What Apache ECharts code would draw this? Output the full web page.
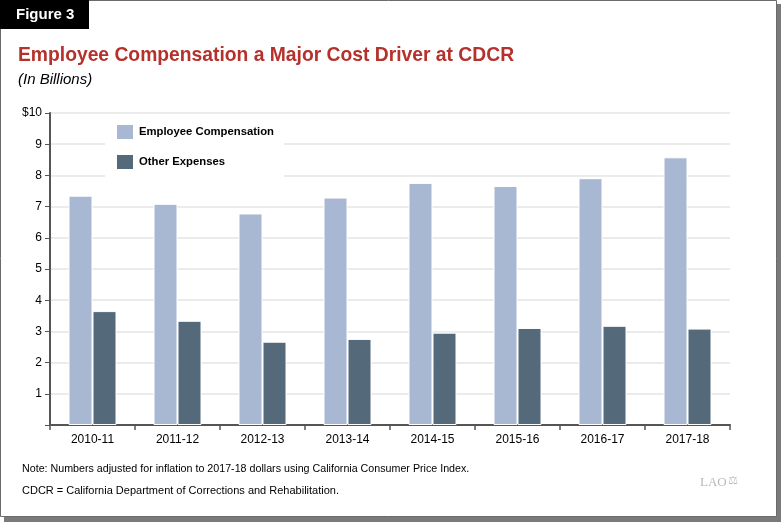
<!DOCTYPE html>
<html>
<head>
<meta charset="utf-8">
<script src="https://cdn.jsdelivr.net/npm/echarts@6/dist/echarts.min.js"></script>
<style>
html,body{margin:0;padding:0;background:#fff;}
#c{width:781px;height:522px;}
</style>
</head>
<body>
<div id="c"></div>
<script>
const categories = ['2010-11','2011-12','2012-13','2013-14','2014-15','2015-16','2016-17','2017-18'];
const employeeComp = [7.35, 7.09, 6.78, 7.29, 7.76, 7.66, 7.91, 8.58];
const otherExpenses = [3.65, 3.34, 2.67, 2.76, 2.96, 3.11, 3.18, 3.09];
const yTickLabels = {10:'$10'};

const chart = echarts.init(document.getElementById('c'), null, {renderer:'canvas'});
const F = '"Liberation Sans", Arial, Helvetica, sans-serif';
chart.setOption({
  animation:false,
  backgroundColor:'#fff',
  textStyle:{fontFamily:F},
  graphic:[
    {type:'rect', z:-10, shape:{x:4,y:4,width:777,height:518}, style:{fill:'#7a7a7a'}},
    {type:'rect', z:-9, shape:{x:0.5,y:0.5,width:776,height:516}, style:{fill:'#fff', stroke:'#6a6a6a', lineWidth:1}},
    {type:'rect', z:5, shape:{x:0,y:0,width:89,height:29}, style:{fill:'#000'}},
    {type:'text', z:6, left:16, top:7, style:{text:'Figure 3', fill:'#fff', font:'bold 15px '+F}},
    {type:'text', z:6, left:18, top:46, style:{text:'Employee Compensation a Major Cost Driver at CDCR', fill:'#B5312B', font:'bold 19.3px '+F}},
    {type:'text', z:6, left:18, top:72, style:{text:'(In Billions)', fill:'#000', font:'italic 15px '+F}},
    {type:'text', z:6, left:22, top:464, style:{text:'Note: Numbers adjusted for inflation to 2017-18 dollars using California Consumer Price Index.', fill:'#000', font:'10.7px '+F}},
    {type:'text', z:6, left:22, top:485, style:{text:'CDCR = California Department of Corrections and Rehabilitation.', fill:'#000', font:'11px '+F}},
    {type:'text', z:6, left:700, top:476, style:{text:'LAO', fill:'#b8b8b8', font:'13px "Liberation Serif", "DejaVu Serif", serif'}},
    {type:'text', z:6, left:728, top:476, style:{text:'⚖', fill:'#b8b8b8', font:'11px "DejaVu Sans", sans-serif'}}
  ],
  grid:{left:50, right:51, top:113, bottom:97, containLabel:false},
  legend:{
    left:105, top:116, orient:'vertical', icon:'rect', itemWidth:18, itemHeight:16, itemGap:12,
    backgroundColor:'#fff', padding:[7,10,7,10],
    textStyle:{fontSize:11.3, fontWeight:'bold', color:'#000', fontFamily:F},
    data:['Employee Compensation','Other Expenses']
  },
  xAxis:{
    type:'category', data:categories,
    axisLine:{lineStyle:{color:'#555', width:2}},
    axisTick:{show:true, length:5, lineStyle:{color:'#555', width:1.5}},
    axisLabel:{color:'#000', fontSize:12, margin:9, fontFamily:F}
  },
  yAxis:{
    type:'value', min:0, max:10, interval:1,
    axisLine:{show:true, lineStyle:{color:'#555', width:2}},
    axisTick:{show:true, length:5, lineStyle:{color:'#555'}},
    axisLabel:{color:'#000', fontSize:12, margin:8, fontFamily:F,
      formatter:v => v===0 ? '' : (yTickLabels[v] || String(v))},
    splitLine:{show:true, lineStyle:{color:'#e4e4e4', width:1.5}}
  },
  series:[
    {name:'Employee Compensation', type:'bar', data:employeeComp, barWidth:24, barGap:'0%',
     itemStyle:{color:'#A9B8D2', borderColor:'#fff', borderWidth:1}},
    {name:'Other Expenses', type:'bar', data:otherExpenses, barWidth:24, barGap:'0%',
     itemStyle:{color:'#546979', borderColor:'#fff', borderWidth:1}}
  ]
});
</script>
</body>
</html>
